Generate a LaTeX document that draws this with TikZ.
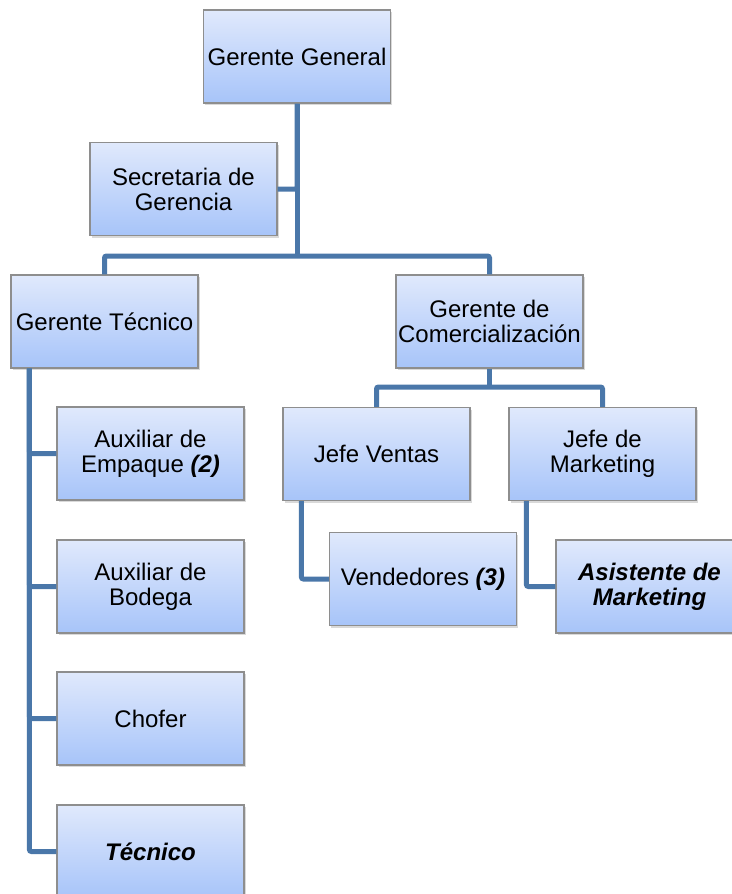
\documentclass[tikz,border=0pt]{standalone}
\usepackage{fontspec}
\setmainfont{Liberation Sans}
\usetikzlibrary{shadows}

\definecolor{boxtop}{HTML}{E0E9FC}
\definecolor{boxbot}{HTML}{A7C4F9}
\definecolor{boxline}{HTML}{8E8E8E}
\definecolor{linkblue}{HTML}{4A77A9}

\tikzset{
    cargo/.style={draw=boxline, line width=0.6pt, top color=boxtop, bottom color=boxbot,
        minimum width=93.5pt, minimum height=46.5pt, inner sep=1pt, align=center,
        font=\fontsize{12}{12.5}\selectfont,
        drop shadow={opacity=0.3, shadow xshift=0.8pt, shadow yshift=-1pt}},
    enlace/.style={draw=linkblue, line width=2.5pt, rounded corners=1pt}
}

\begin{document}
\begin{tikzpicture}[x=0.5pt, y=-0.5pt]
        \useasboundingbox (0,0) rectangle (732,894);

        % Top management
        \node[cargo] (gg) at (297,56.5) {Gerente General};
        \node[cargo] (sec) at (183.5,189) {Secretaria de\\Gerencia};
        \node[cargo] (gt) at (104.5,321.5) {Gerente Técnico};
        \node[cargo] (gc) at (489.5,321.5) {Gerente de\\Comercialización};

        % Commercial area
        \node[cargo] (jv) at (376.5,454) {Jefe Ventas};
        \node[cargo] (jm) at (602.5,454) {Jefe de\\Marketing};
        \node[cargo] (ven) at (423,579) {Vendedores \textbf{\textit{(3)}}};
        \node[cargo, font=\fontsize{12}{12.5}\selectfont\bfseries\itshape] (asi) at (649.5,586.5) {Asistente de\\Marketing};

        % Technical area
        \foreach \name/\y/\txt in {emp/453.5/{Auxiliar de\\Empaque \textbf{\textit{(2)}}},
                                   bod/586.5/{Auxiliar de\\Bodega},
                                   cho/718.5/{Chofer},
                                   tec/851.5/{\textbf{\textit{Técnico}}}}
           {
                \node[cargo] (\name) at (150.5,\y) {\txt};
           }

        % Links
        \coordinate (split) at (297,256);
        \coordinate (splitc) at (489.5,387);
        \draw[enlace] (gg.south) |- (sec.east);
        \draw[enlace] (gg.south) -- (split);
        \draw[enlace] (gt.north) |- (split) -| (gc.north);
        \draw[enlace] (gc.south) -- (splitc);
        \draw[enlace] (jv.north) |- (splitc) -| (jm.north);
        \draw[enlace] ([xshift=9.5pt]jv.south west) |- (ven.west);
        \draw[enlace] ([xshift=9pt]jm.south west) |- (asi.west);
        \foreach \name in {emp,bod,cho,tec}
           {
                \draw[enlace] ([xshift=9.5pt]gt.south west) |- (\name.west);
           }
    \end{tikzpicture}
\end{document}
